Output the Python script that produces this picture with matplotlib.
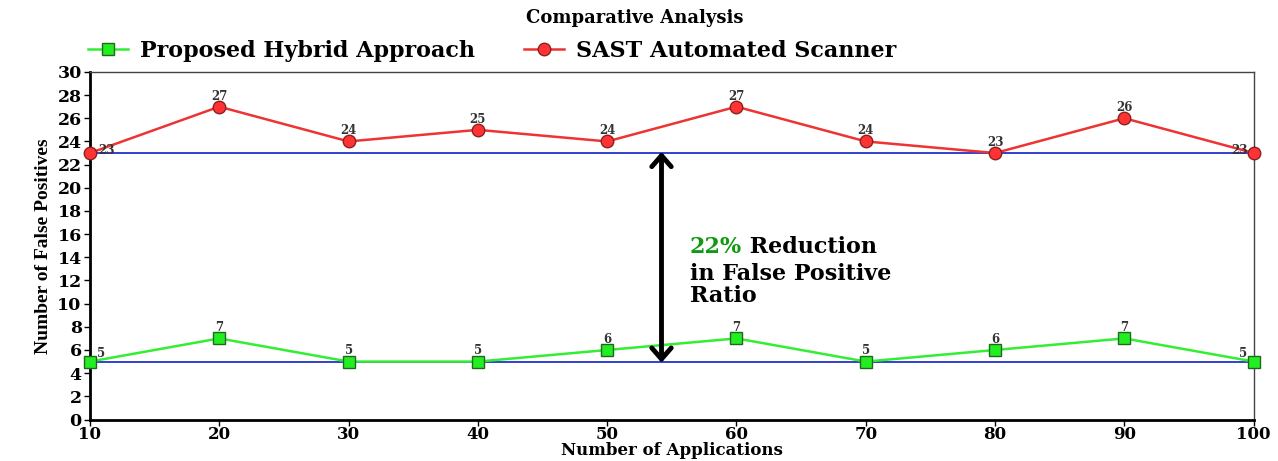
import matplotlib
matplotlib.use("Agg")
import matplotlib.pyplot as plt

apps = [10, 20, 30, 40, 50, 60, 70, 80, 90, 100]
hybrid = [5, 7, 5, 5, 6, 7, 5, 6, 7, 5]
sast = [23, 27, 24, 25, 24, 27, 24, 23, 26, 23]
yticks = list(range(0, 31, 2))

serif = ["DejaVu Serif"]

fig = plt.figure(figsize=(12.78, 4.61), dpi=100)
ax = fig.add_axes([0.0704, 0.09, 0.9106, 0.754])

ax.axhline(23, color="#2233cc", lw=1.3, zorder=1)
ax.axhline(5, color="#2233cc", lw=1.3, zorder=1)

ax.plot(apps, hybrid, color="#33ee33", lw=1.8, marker="s", ms=9,
        mfc="#22ee22", mec="#226622", mew=1.0, label="Proposed Hybrid Approach", zorder=3, clip_on=False)
ax.plot(apps, sast, color="#ee3333", lw=1.8, marker="o", ms=9,
        mfc="#ff3333", mec="#882222", mew=1.0, label="SAST Automated Scanner", zorder=3, clip_on=False)

lab_kw = dict(textcoords="offset points", ha="center", va="bottom", fontsize=8.5,
              fontweight="bold", family=serif, color="#333333")
for i, (x, y) in enumerate(zip(apps, hybrid)):
    if i == 0:
        off = (8, 1)
    elif i == len(apps) - 1:
        off = (-8, 1)
    else:
        off = (0, 3)
    ax.annotate(str(y), (x, y), xytext=off, **lab_kw)
for i, (x, y) in enumerate(zip(apps, sast)):
    if i == 0:
        off = (12, -3)
    elif i == len(apps) - 1:
        off = (-10, -3)
    else:
        off = (0, 3)
    ax.annotate(str(y), (x, y), xytext=off, **lab_kw)

ax.annotate("", xy=(54.2, 4.9), xytext=(54.2, 23.1),
            arrowprops=dict(arrowstyle="<->,head_length=0.8,head_width=0.7", color="black", lw=3.5,
                            shrinkA=0, shrinkB=0), zorder=4)

t1 = ax.text(56.4, 15.8, "22%", color="#119911", fontsize=16, fontweight="bold", family=serif,
             ha="left", va="top")
ax.annotate(" Reduction", xy=(1, 0), xycoords=t1, ha="left", va="bottom", color="black",
            fontsize=16, fontweight="bold", family=serif)
ax.annotate("in False Positive\nRatio", xy=(0, 0), xycoords=t1, xytext=(0, -3),
            textcoords="offset points", ha="left", va="top", color="black",
            fontsize=16, fontweight="bold", family=serif, linespacing=1.0)

ax.set_xlim(10, 100)
ax.set_ylim(0, 30)
ax.set_xticks(apps)
ax.set_yticks(yticks)
for lab in ax.get_xticklabels():
    lab.set_family(serif)
    lab.set_fontweight("bold")
    lab.set_fontsize(12)
for lab in ax.get_yticklabels():
    lab.set_family(serif)
    lab.set_fontweight("bold")
    lab.set_fontsize(12.5)
ax.tick_params(axis="y", length=4, width=1, pad=2)
ax.tick_params(axis="x", length=4, width=1, pad=1)

ax.spines["left"].set_linewidth(2)
ax.spines["bottom"].set_linewidth(2)
ax.spines["top"].set_linewidth(1)
ax.spines["right"].set_linewidth(1)
ax.spines["top"].set_color("#444444")
ax.spines["right"].set_color("#444444")

ax.set_xlabel("Number of Applications", family=serif, fontweight="bold", fontsize=12, labelpad=-1)
ax.set_ylabel("Number of False Positives", family=["Liberation Serif"], fontweight="bold",
              fontsize=14, labelpad=4)

fig.text(0.497, 0.96, "Comparative Analysis", family=serif, fontweight="bold", fontsize=13,
         ha="center", va="center")
fig.legend(loc="center left", bbox_to_anchor=(0.062, 0.89), ncol=2, frameon=False,
           prop=dict(family=serif, weight="bold", size=16), columnspacing=2.2, handlelength=1.8,
           handletextpad=0.55, borderaxespad=0)

fig.savefig("out.png", dpi=100)
